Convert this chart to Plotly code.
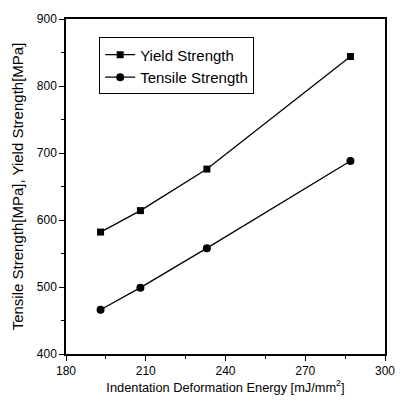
import plotly.graph_objects as go

energy = [193, 208, 233, 287]
yield_strength = [582, 614, 676, 844]
tensile_strength = [466, 499, 558, 688]

FONT = "Liberation Sans, Arial"

fig = go.Figure()
fig.add_trace(go.Scatter(x=energy, y=yield_strength, mode="lines+markers", name="Yield Strength",
                         line=dict(color="black", width=1.3),
                         marker=dict(symbol="square", size=7, color="black")))
fig.add_trace(go.Scatter(x=energy, y=tensile_strength, mode="lines+markers", name="Tensile Strength",
                         line=dict(color="black", width=1.3),
                         marker=dict(symbol="circle", size=8, color="black")))

axis_common = dict(showgrid=False, zeroline=False, showline=True, linecolor="black", linewidth=1.5,
                   mirror=True, ticks="outside", ticklen=5, tickcolor="black",
                   tickfont=dict(family=FONT, size=12, color="black"))
fig.update_xaxes(range=[180, 300], tickvals=[180, 210, 240, 270, 300],
                 minor=dict(ticks="outside", ticklen=3, dtick=15, tickcolor="black"),
                 title=dict(text="Indentation Deformation Energy [mJ/mm<sup>2</sup>]", standoff=4,
                            font=dict(family=FONT, size=12.8, color="black")),
                 **axis_common)
fig.update_yaxes(range=[400, 900], tickvals=[400, 500, 600, 700, 800, 900],
                 minor=dict(ticks="outside", ticklen=3, dtick=50, tickcolor="black"),
                 title=dict(text="Tensile Strength[MPa], Yield Strength[MPa]", standoff=10,
                            font=dict(family=FONT, size=15, color="black")),
                 **axis_common)
fig.update_layout(width=407, height=403, margin=dict(l=66, r=15, t=13, b=45),
                  plot_bgcolor="white", paper_bgcolor="white",
                  legend=dict(x=0.104, y=0.945, xanchor="left", yanchor="top",
                              bordercolor="black", borderwidth=1, bgcolor="white",
                              font=dict(family=FONT, size=15, color="black"),
                              tracegroupgap=0, itemwidth=30),
                  showlegend=True)
fig.write_html("out.html")
